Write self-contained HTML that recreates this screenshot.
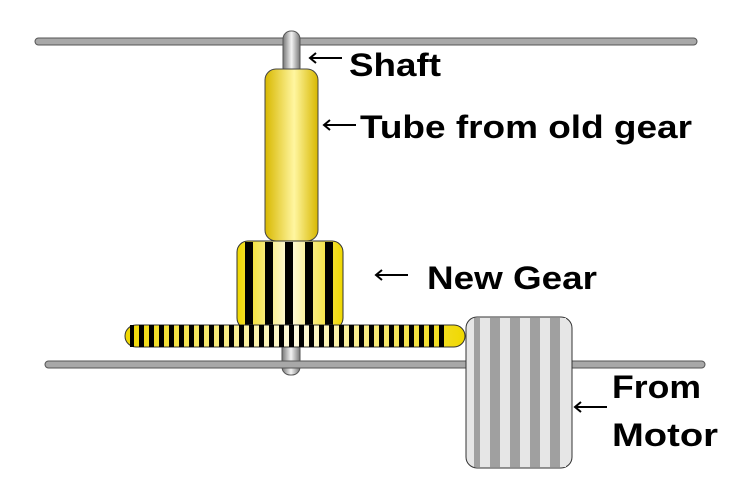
<!DOCTYPE html>
<html><head><style>body{margin:0;background:#fff}svg{display:block}text{font-family:"Liberation Sans",sans-serif;font-weight:bold;fill:#000}</style></head><body>
<svg width="749" height="483" viewBox="0 0 749 483" xmlns="http://www.w3.org/2000/svg">
<defs>
<linearGradient id="tube" x1="0" x2="1"><stop offset="0" stop-color="#d8b800"/><stop offset="0.55" stop-color="#fff6a0"/><stop offset="1" stop-color="#d8b800"/></linearGradient>
<linearGradient id="shaft" x1="0" x2="1"><stop offset="0" stop-color="#777"/><stop offset="0.5" stop-color="#f4f4f4"/><stop offset="1" stop-color="#777"/></linearGradient>
<linearGradient id="yel" x1="0" x2="1"><stop offset="0" stop-color="#f0d800"/><stop offset="0.5" stop-color="#fffbe0"/><stop offset="1" stop-color="#f0d800"/></linearGradient>
<pattern id="gs" x="237" y="0" width="20" height="10" patternUnits="userSpaceOnUse"><rect x="8" width="8" height="10" fill="#000"/></pattern>
<pattern id="fs" x="125" y="0" width="10" height="10" patternUnits="userSpaceOnUse"><rect x="4" width="5" height="10" fill="#000"/></pattern>
<pattern id="ms" x="470" y="0" width="20" height="10" patternUnits="userSpaceOnUse"><rect width="10" height="10" fill="#a0a0a0"/><rect x="10" width="10" height="10" fill="#e6e6e6"/></pattern>
</defs>
<rect x="35" y="38" width="662" height="7" rx="3.5" fill="#a8a8a8" stroke="#555" stroke-width="1"/>
<rect x="283" y="31" width="17" height="45" rx="8" fill="url(#shaft)" stroke="#555"/>
<rect x="265" y="69" width="53" height="172" rx="11" fill="url(#tube)" stroke="#444"/>
<rect x="282" y="340" width="18" height="35" rx="8" fill="url(#shaft)" stroke="#555"/>
<rect x="237" y="241" width="106" height="88" rx="11" fill="url(#yel)" stroke="#333"/>
<rect x="239" y="242" width="102" height="86" fill="url(#gs)"/>
<rect x="125" y="325" width="340" height="22" rx="11" fill="url(#yel)" stroke="#333"/>
<rect x="130" y="325" width="315" height="22" fill="url(#fs)"/>
<rect x="45" y="361" width="660" height="7" rx="3.5" fill="#a8a8a8" stroke="#555"/>
<rect x="466" y="317" width="106" height="151" rx="11" fill="#e6e6e6" stroke="#333"/>
<rect x="474" y="318" width="92" height="149" fill="url(#ms)"/>
<g stroke="#000" stroke-width="2" fill="none">
<path d="M310 58H342M316 53l-6 5 6 5"/>
<path d="M324 125H356M330 120l-6 5 6 5"/>
<path d="M376 275H408M382 270l-6 5 6 5"/>
<path d="M575 407H607M581 402l-6 5 6 5"/>
</g>
<text x="349" y="76" font-size="32" textLength="92" lengthAdjust="spacingAndGlyphs">Shaft</text>
<text x="360" y="138" font-size="32" textLength="332" lengthAdjust="spacingAndGlyphs">Tube from old gear</text>
<text x="427" y="289" font-size="32" textLength="170" lengthAdjust="spacingAndGlyphs">New Gear</text>
<text x="612" y="398" font-size="32" textLength="89" lengthAdjust="spacingAndGlyphs">From</text>
<text x="612" y="446" font-size="32" textLength="106" lengthAdjust="spacingAndGlyphs">Motor</text>
</svg>
</body></html>
